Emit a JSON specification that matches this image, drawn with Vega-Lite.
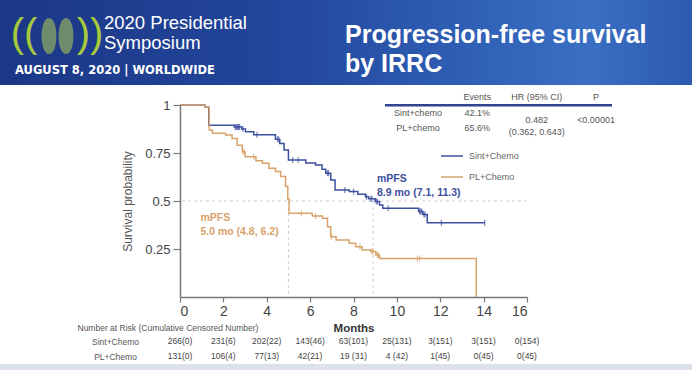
{
  "$schema": "https://vega.github.io/schema/vega-lite/v6.json",
  "width": 347,
  "height": 192,
  "autosize": {"type": "none"},
  "padding": {"left": 180, "top": 105, "right": 165, "bottom": 73},
  "background": "white",
  "config": {
    "view": {"stroke": null},
    "axis": {"grid": false, "labelFont": "Liberation Sans", "titleFont": "Liberation Sans"},
    "text": {"font": "Liberation Sans"},
    "legend": {"labelFont": "Liberation Sans"}
  },
  "datasets": {
    "km": [
      {"arm": "Sint+Chemo", "time": 0, "surv": 1},
      {"arm": "Sint+Chemo", "time": 1.15, "surv": 0.988},
      {"arm": "Sint+Chemo", "time": 1.33, "surv": 0.895},
      {"arm": "Sint+Chemo", "time": 2.5, "surv": 0.885},
      {"arm": "Sint+Chemo", "time": 2.85, "surv": 0.875},
      {"arm": "Sint+Chemo", "time": 3.02, "surv": 0.861},
      {"arm": "Sint+Chemo", "time": 3.4, "surv": 0.845},
      {"arm": "Sint+Chemo", "time": 4.4, "surv": 0.822},
      {"arm": "Sint+Chemo", "time": 4.6, "surv": 0.8},
      {"arm": "Sint+Chemo", "time": 4.8, "surv": 0.765},
      {"arm": "Sint+Chemo", "time": 5.0, "surv": 0.714},
      {"arm": "Sint+Chemo", "time": 5.8, "surv": 0.698},
      {"arm": "Sint+Chemo", "time": 6.25, "surv": 0.688},
      {"arm": "Sint+Chemo", "time": 6.55, "surv": 0.665},
      {"arm": "Sint+Chemo", "time": 6.72, "surv": 0.645},
      {"arm": "Sint+Chemo", "time": 6.95, "surv": 0.61},
      {"arm": "Sint+Chemo", "time": 7.15, "surv": 0.557},
      {"arm": "Sint+Chemo", "time": 7.8, "surv": 0.549},
      {"arm": "Sint+Chemo", "time": 8.2, "surv": 0.535},
      {"arm": "Sint+Chemo", "time": 8.55, "surv": 0.522},
      {"arm": "Sint+Chemo", "time": 8.7, "surv": 0.512},
      {"arm": "Sint+Chemo", "time": 9.0, "surv": 0.497},
      {"arm": "Sint+Chemo", "time": 9.2, "surv": 0.479},
      {"arm": "Sint+Chemo", "time": 9.35, "surv": 0.462},
      {"arm": "Sint+Chemo", "time": 11.0, "surv": 0.445},
      {"arm": "Sint+Chemo", "time": 11.2, "surv": 0.43},
      {"arm": "Sint+Chemo", "time": 11.4, "surv": 0.387},
      {"arm": "Sint+Chemo", "time": 14.05, "surv": 0.387},
      {"arm": "PL+Chemo", "time": 0, "surv": 1},
      {"arm": "PL+Chemo", "time": 1.15, "surv": 0.988},
      {"arm": "PL+Chemo", "time": 1.35, "surv": 0.87},
      {"arm": "PL+Chemo", "time": 1.5, "surv": 0.853},
      {"arm": "PL+Chemo", "time": 2.1, "surv": 0.844},
      {"arm": "PL+Chemo", "time": 2.4, "surv": 0.826},
      {"arm": "PL+Chemo", "time": 2.64, "surv": 0.79},
      {"arm": "PL+Chemo", "time": 2.87, "surv": 0.757},
      {"arm": "PL+Chemo", "time": 3.0, "surv": 0.73},
      {"arm": "PL+Chemo", "time": 3.5, "surv": 0.71},
      {"arm": "PL+Chemo", "time": 3.8, "surv": 0.696},
      {"arm": "PL+Chemo", "time": 4.1, "surv": 0.67},
      {"arm": "PL+Chemo", "time": 4.4, "surv": 0.653},
      {"arm": "PL+Chemo", "time": 4.64, "surv": 0.627},
      {"arm": "PL+Chemo", "time": 4.87, "surv": 0.575},
      {"arm": "PL+Chemo", "time": 4.97, "surv": 0.51},
      {"arm": "PL+Chemo", "time": 5.03, "surv": 0.436},
      {"arm": "PL+Chemo", "time": 6.1, "surv": 0.422},
      {"arm": "PL+Chemo", "time": 6.57, "surv": 0.41},
      {"arm": "PL+Chemo", "time": 6.8, "surv": 0.366},
      {"arm": "PL+Chemo", "time": 6.95, "surv": 0.314},
      {"arm": "PL+Chemo", "time": 7.2, "surv": 0.297},
      {"arm": "PL+Chemo", "time": 7.8, "surv": 0.28},
      {"arm": "PL+Chemo", "time": 8.1, "surv": 0.262},
      {"arm": "PL+Chemo", "time": 8.4, "surv": 0.245},
      {"arm": "PL+Chemo", "time": 8.8, "surv": 0.237},
      {"arm": "PL+Chemo", "time": 9.03, "surv": 0.219},
      {"arm": "PL+Chemo", "time": 9.2, "surv": 0.2},
      {"arm": "PL+Chemo", "time": 13.65, "surv": 0.2},
      {"arm": "PL+Chemo", "time": 13.66, "surv": 0}
    ],
    "censor": [
      {"arm": "Sint+Chemo", "time": 2.55, "surv": 0.885},
      {"arm": "Sint+Chemo", "time": 2.6, "surv": 0.885},
      {"arm": "Sint+Chemo", "time": 2.65, "surv": 0.885},
      {"arm": "Sint+Chemo", "time": 2.7, "surv": 0.885},
      {"arm": "Sint+Chemo", "time": 2.75, "surv": 0.885},
      {"arm": "Sint+Chemo", "time": 2.9, "surv": 0.875},
      {"arm": "Sint+Chemo", "time": 3.55, "surv": 0.845},
      {"arm": "Sint+Chemo", "time": 4.5, "surv": 0.822},
      {"arm": "Sint+Chemo", "time": 4.55, "surv": 0.822},
      {"arm": "Sint+Chemo", "time": 5.2, "surv": 0.714},
      {"arm": "Sint+Chemo", "time": 5.45, "surv": 0.714},
      {"arm": "Sint+Chemo", "time": 6.8, "surv": 0.645},
      {"arm": "Sint+Chemo", "time": 6.85, "surv": 0.645},
      {"arm": "Sint+Chemo", "time": 7.6, "surv": 0.557},
      {"arm": "Sint+Chemo", "time": 8.0, "surv": 0.549},
      {"arm": "Sint+Chemo", "time": 8.6, "surv": 0.522},
      {"arm": "Sint+Chemo", "time": 8.8, "surv": 0.512},
      {"arm": "Sint+Chemo", "time": 8.85, "surv": 0.512},
      {"arm": "Sint+Chemo", "time": 9.05, "surv": 0.497},
      {"arm": "Sint+Chemo", "time": 9.1, "surv": 0.497},
      {"arm": "Sint+Chemo", "time": 9.6, "surv": 0.462},
      {"arm": "Sint+Chemo", "time": 11.05, "surv": 0.445},
      {"arm": "Sint+Chemo", "time": 11.1, "surv": 0.445},
      {"arm": "Sint+Chemo", "time": 11.15, "surv": 0.445},
      {"arm": "Sint+Chemo", "time": 11.25, "surv": 0.43},
      {"arm": "Sint+Chemo", "time": 11.3, "surv": 0.43},
      {"arm": "Sint+Chemo", "time": 12.05, "surv": 0.387},
      {"arm": "Sint+Chemo", "time": 14.05, "surv": 0.387},
      {"arm": "PL+Chemo", "time": 2.9, "surv": 0.757},
      {"arm": "PL+Chemo", "time": 2.95, "surv": 0.757},
      {"arm": "PL+Chemo", "time": 3.4, "surv": 0.73},
      {"arm": "PL+Chemo", "time": 5.6, "surv": 0.436},
      {"arm": "PL+Chemo", "time": 6.25, "surv": 0.422},
      {"arm": "PL+Chemo", "time": 7.0, "surv": 0.314},
      {"arm": "PL+Chemo", "time": 8.3, "surv": 0.262},
      {"arm": "PL+Chemo", "time": 8.85, "surv": 0.237},
      {"arm": "PL+Chemo", "time": 8.9, "surv": 0.237},
      {"arm": "PL+Chemo", "time": 9.1, "surv": 0.219},
      {"arm": "PL+Chemo", "time": 9.15, "surv": 0.219},
      {"arm": "PL+Chemo", "time": 10.95, "surv": 0.2},
      {"arm": "PL+Chemo", "time": 11.05, "surv": 0.2}
    ],
    "medians": [
      {"arm": "Sint+Chemo", "median": 8.9, "surv": 0.5, "label": "mPFS\n8.9 mo (7.1, 11.3)"},
      {"arm": "PL+Chemo", "median": 5.0, "surv": 0.5, "label": "mPFS\n5.0 mo (4.8, 6.2)"}
    ],
    "risk": [
      {"arm": "Sint+Chemo", "time": 0, "n": "266(0)"},
      {"arm": "Sint+Chemo", "time": 2, "n": "231(6)"},
      {"arm": "Sint+Chemo", "time": 4, "n": "202(22)"},
      {"arm": "Sint+Chemo", "time": 6, "n": "143(46)"},
      {"arm": "Sint+Chemo", "time": 8, "n": "63(101)"},
      {"arm": "Sint+Chemo", "time": 10, "n": "25(131)"},
      {"arm": "Sint+Chemo", "time": 12, "n": "3(151)"},
      {"arm": "Sint+Chemo", "time": 14, "n": "3(151)"},
      {"arm": "Sint+Chemo", "time": 16, "n": "0(154)"},
      {"arm": "PL+Chemo", "time": 0, "n": "131(0)"},
      {"arm": "PL+Chemo", "time": 2, "n": "106(4)"},
      {"arm": "PL+Chemo", "time": 4, "n": "77(13)"},
      {"arm": "PL+Chemo", "time": 6, "n": "42(21)"},
      {"arm": "PL+Chemo", "time": 8, "n": "19 (31)"},
      {"arm": "PL+Chemo", "time": 10, "n": "4 (42)"},
      {"arm": "PL+Chemo", "time": 12, "n": "1(45)"},
      {"arm": "PL+Chemo", "time": 14, "n": "0(45)"},
      {"arm": "PL+Chemo", "time": 16, "n": "0(45)"}
    ]
  },
  "resolve": {"scale": {"x": "independent", "y": "independent"}},
  "layer": [
    {
      "data": {"values": [{"part": "banner"}]},
      "mark": {"type": "rect", "stroke": null, "fill": {"gradient": "linear", "x1": 0, "y1": 0, "x2": 1, "y2": 0, "stops": [
        {"offset": 0, "color": "#1c3786"},
        {"offset": 0.4, "color": "#22469b"},
        {"offset": 0.68, "color": "#2f60b6"},
        {"offset": 0.85, "color": "#3a6fc3"},
        {"offset": 1, "color": "#2c5aae"}
      ]}},
      "encoding": {
        "x": {"field": "part", "type": "nominal", "scale": {"type": "band", "domain": ["banner"], "range": [-180, 512], "paddingInner": 0, "paddingOuter": 0}, "axis": null},
        "y": {"field": "part", "type": "nominal", "scale": {"type": "band", "domain": ["banner"], "range": [-105, -20], "paddingInner": 0, "paddingOuter": 0}, "axis": null}
      }
    },
    {
      "data": {"values": [{"part": "footer"}]},
      "mark": {"type": "rect", "stroke": null, "fill": "#dde2ea"},
      "encoding": {
        "x": {"field": "part", "type": "nominal", "scale": {"type": "band", "domain": ["footer"], "range": [-180, 512], "paddingInner": 0, "paddingOuter": 0}, "axis": null},
        "y": {"field": "part", "type": "nominal", "scale": {"type": "band", "domain": ["footer"], "range": [259, 265], "paddingInner": 0, "paddingOuter": 0}, "axis": null}
      }
    },
    {
      "data": {"values": [{"lobe": "left", "block": "logo"}, {"lobe": "right", "block": "logo"}]},
      "mark": {"type": "point", "filled": true, "shape": "M0,-1C0.55,-1,0.55,1,0,1C-0.55,1,-0.55,-1,0,-1Z", "size": 1300, "color": "#7d9a66", "opacity": 0.85},
      "encoding": {
        "x": {"field": "lobe", "type": "nominal", "scale": {"type": "point", "domain": ["left", "right"], "range": [-131, -114], "padding": 0}, "axis": null},
        "y": {"field": "block", "type": "nominal", "scale": {"type": "point", "domain": ["logo"], "range": [-69, -69], "padding": 0}, "axis": null}
      }
    },
    {
      "data": {"values": [{"arc": "((", "block": "logo"}, {"arc": "))", "block": "logo"}]},
      "mark": {"type": "text", "align": "center", "baseline": "middle", "fontSize": 40, "color": "#a7c93c"},
      "encoding": {
        "x": {"field": "arc", "type": "nominal", "scale": {"type": "point", "domain": ["((", "))"], "range": [-156, -90], "padding": 0}, "axis": null},
        "y": {"field": "block", "type": "nominal", "scale": {"type": "point", "domain": ["logo"], "range": [-70, -70], "padding": 0}, "axis": null},
        "text": {"field": "arc"}
      }
    },
    {
      "data": {"values": [{"block": "logo", "line": "2020 Presidential"}, {"block": "logo", "line": "Symposium"}]},
      "mark": {"type": "text", "align": "left", "baseline": "alphabetic", "fontSize": 18.5, "color": "white"},
      "encoding": {
        "x": {"field": "block", "type": "nominal", "scale": {"type": "point", "domain": ["logo"], "range": [-76, -76], "padding": 0}, "axis": null},
        "y": {"field": "line", "type": "nominal", "scale": {"type": "point", "domain": ["2020 Presidential", "Symposium"], "range": [-76.5, -56.5], "padding": 0}, "axis": null},
        "text": {"field": "line"}
      }
    },
    {
      "data": {"values": [{"block": "date", "line": "AUGUST 8, 2020 | WORLDWIDE"}]},
      "mark": {"type": "text", "align": "left", "baseline": "alphabetic", "fontSize": 11.5, "fontWeight": "bold", "font": "DejaVu Sans", "color": "white"},
      "encoding": {
        "x": {"field": "block", "type": "nominal", "scale": {"type": "point", "domain": ["date"], "range": [-165, -165], "padding": 0}, "axis": null},
        "y": {"field": "block", "type": "nominal", "scale": {"type": "point", "domain": ["date"], "range": [-31, -31], "padding": 0}, "axis": null},
        "text": {"field": "line"}
      }
    },
    {
      "data": {"values": [{"block": "headline", "line": "Progression-free survival"}, {"block": "headline", "line": "by IRRC"}]},
      "mark": {"type": "text", "align": "left", "baseline": "alphabetic", "fontSize": 25, "fontWeight": "bold", "color": "white"},
      "encoding": {
        "x": {"field": "block", "type": "nominal", "scale": {"type": "point", "domain": ["headline"], "range": [165, 165], "padding": 0}, "axis": null},
        "y": {"field": "line", "type": "nominal", "scale": {"type": "point", "domain": ["Progression-free survival", "by IRRC"], "range": [-62, -33], "padding": 0}, "axis": null},
        "text": {"field": "line"}
      }
    },
    {
      "data": {"values": [{"part": "table rule"}]},
      "mark": {"type": "rect", "stroke": null, "fill": "#34438f"},
      "encoding": {
        "x": {"field": "part", "type": "nominal", "scale": {"type": "band", "domain": ["table rule"], "range": [205, 432], "paddingInner": 0, "paddingOuter": 0}, "axis": null},
        "y": {"field": "part", "type": "nominal", "scale": {"type": "band", "domain": ["table rule"], "range": [-1, 1.5], "paddingInner": 0, "paddingOuter": 0}, "axis": null}
      }
    },
    {
      "data": {"values": [
        {"row": "head", "col": "events", "text": "Events"},
        {"row": "head", "col": "hr", "text": "HR (95% CI)"},
        {"row": "head", "col": "p", "text": "P"},
        {"row": "sint", "col": "arm", "text": "Sint+chemo"},
        {"row": "sint", "col": "events", "text": "42.1%"},
        {"row": "pl", "col": "arm", "text": "PL+chemo"},
        {"row": "pl", "col": "events", "text": "65.6%"},
        {"row": "mid", "col": "hr", "text": "0.482\n(0.362, 0.643)"},
        {"row": "mid", "col": "p", "text": "<0.00001"}
      ]},
      "mark": {"type": "text", "align": "center", "baseline": "middle", "fontSize": 9, "color": "#555555", "lineBreak": "\n", "lineHeight": 12},
      "encoding": {
        "x": {"field": "col", "type": "nominal", "scale": {"type": "point", "domain": ["arm", "events", "hr", "p"], "range": [238, 416], "padding": 0}, "axis": null},
        "y": {"field": "row", "type": "nominal", "scale": {"type": "point", "domain": ["head", "gap", "sint", "mid", "pl"], "range": [-8, 23], "padding": 0}, "axis": null},
        "text": {"field": "text"}
      }
    },
    {
      "data": {"name": "risk"},
      "mark": {"type": "text", "align": "center", "baseline": "middle", "fontSize": 8.5, "color": "#444444"},
      "encoding": {
        "x": {"field": "time", "type": "quantitative", "scale": {"domain": [0, 16], "nice": false}, "axis": null},
        "y": {"field": "arm", "type": "nominal", "scale": {"type": "point", "domain": ["Sint+Chemo", "PL+Chemo"], "range": [236, 251], "padding": 0},
          "axis": {"orient": "left", "domain": false, "ticks": false, "tickSize": 0, "labelPadding": 65, "labelAlign": "center", "labelBaseline": "middle", "labelFontSize": 8.5, "labelColor": "#555555",
            "title": "Number at Risk (Cumulative Censored Number)", "titleAngle": 0, "titleAlign": "left", "titleBaseline": "middle", "titleX": -103, "titleY": 222, "titleFontSize": 8.5, "titleFontWeight": "normal", "titleColor": "#555555"}},
        "text": {"field": "n"}
      }
    },
    {
      "data": {"values": [{"ref": "median", "surv": 0.5}]},
      "mark": {"type": "rule", "strokeDash": [3, 3], "color": "#cccccc", "strokeWidth": 1},
      "encoding": {
        "y": {"field": "surv", "type": "quantitative", "scale": {"domain": [0, 1], "nice": false}, "axis": null}
      }
    },
    {
      "data": {"name": "medians"},
      "mark": {"type": "rule", "strokeDash": [3, 3], "color": "#cccccc", "strokeWidth": 1},
      "encoding": {
        "x": {"field": "median", "type": "quantitative", "scale": {"domain": [0, 16], "nice": false}, "axis": null},
        "y": {"field": "surv", "type": "quantitative", "scale": {"domain": [0, 1], "nice": false}, "axis": null},
        "y2": {"datum": 0}
      }
    },
    {
      "data": {"name": "km"},
      "mark": {"type": "line", "interpolate": "step-after", "strokeWidth": 1.5},
      "encoding": {
        "x": {"field": "time", "type": "quantitative", "scale": {"domain": [0, 16], "nice": false},
          "axis": {"orient": "bottom", "values": [0, 2, 4, 6, 8, 10, 12, 14, 16], "format": "d", "title": "Months", "titleFontWeight": "bold", "titleFontSize": 11.5, "titleColor": "#333333", "titlePadding": 4, "labelFontSize": 14, "labelColor": "#444444", "labelPadding": 2, "tickSize": 5, "tickColor": "#777777", "tickWidth": 1.2, "domainColor": "#777777", "domainWidth": 1.5}},
        "y": {"field": "surv", "type": "quantitative", "scale": {"domain": [0, 1], "nice": false},
          "axis": {"orient": "left", "values": [0.25, 0.5, 0.75, 1], "format": ".2~f", "title": "Survival probability", "titleFontWeight": "normal", "titleFontSize": 12, "titleColor": "#555555", "titlePadding": 10, "labelFontSize": 13, "labelColor": "#444444", "labelPadding": 3, "tickSize": 7, "tickColor": "#777777", "tickWidth": 1.2, "domainColor": "#777777", "domainWidth": 1.5}},
        "color": {"field": "arm", "type": "nominal", "scale": {"domain": ["Sint+Chemo", "PL+Chemo"], "range": ["#3d4f9f", "#d8a36b"]},
          "legend": {"orient": "none", "legendX": 260, "legendY": 39, "title": null, "symbolType": "stroke", "symbolSize": 484, "symbolStrokeWidth": 1.5, "labelFontSize": 9, "labelColor": "#666666", "labelOffset": 5, "rowPadding": 4}}
      }
    },
    {
      "data": {"name": "censor"},
      "mark": {"type": "tick", "orient": "vertical", "size": 6, "thickness": 1.2},
      "encoding": {
        "x": {"field": "time", "type": "quantitative", "scale": {"domain": [0, 16], "nice": false}, "axis": null},
        "y": {"field": "surv", "type": "quantitative", "scale": {"domain": [0, 1], "nice": false}, "axis": null},
        "color": {"field": "arm", "type": "nominal", "legend": null}
      }
    },
    {
      "data": {"name": "medians"},
      "transform": [{"filter": "datum.arm === 'Sint+Chemo'"}],
      "mark": {"type": "text", "align": "left", "baseline": "alphabetic", "dx": 4, "dy": -19.5, "fontSize": 10.5, "fontWeight": "bold", "lineBreak": "\n", "lineHeight": 14},
      "encoding": {
        "x": {"field": "median", "type": "quantitative", "scale": {"domain": [0, 16], "nice": false}, "axis": null},
        "y": {"field": "surv", "type": "quantitative", "scale": {"domain": [0, 1], "nice": false}, "axis": null},
        "text": {"field": "label"},
        "color": {"field": "arm", "type": "nominal", "legend": null}
      }
    },
    {
      "data": {"name": "medians"},
      "transform": [{"filter": "datum.arm === 'PL+Chemo'"}],
      "mark": {"type": "text", "align": "left", "baseline": "alphabetic", "dx": -88, "dy": 19.5, "fontSize": 10.5, "fontWeight": "bold", "lineBreak": "\n", "lineHeight": 14},
      "encoding": {
        "x": {"field": "median", "type": "quantitative", "scale": {"domain": [0, 16], "nice": false}, "axis": null},
        "y": {"field": "surv", "type": "quantitative", "scale": {"domain": [0, 1], "nice": false}, "axis": null},
        "text": {"field": "label"},
        "color": {"field": "arm", "type": "nominal", "legend": null}
      }
    }
  ]
}
